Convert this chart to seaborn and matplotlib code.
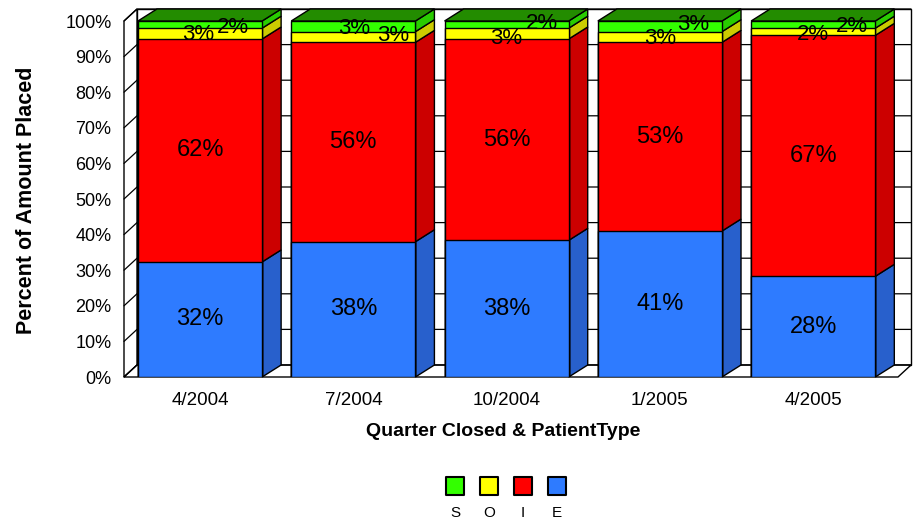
import matplotlib
matplotlib.use("Agg")
import matplotlib.pyplot as plt
from matplotlib.patches import Polygon
import numpy as np
import pandas as pd
import seaborn as sns

# Datos (porcentaje del importe colocado)
quarters = ["4/2004", "7/2004", "10/2004", "1/2005", "4/2005"]
series_names = ["S", "O", "I", "E"]
e_vals = [32, 38, 38, 41, 28]
i_vals = [62, 56, 56, 53, 67]
o_vals = [3, 3, 3, 3, 2]
s_vals = [2, 3, 2, 3, 2]

# colores: frente, lateral
front_col = {"E": "#2E7BFF", "I": "#FF0000", "O": "#FFFF00", "S": "#33FF00"}
side_col = {"E": "#2860CC", "I": "#CC0000", "O": "#CCCC00", "S": "#29CC00"}
top_col = "#238C00"

# desplazamiento de etiquetas pequeñas (px) para evitar solapes
o_nudge = [(-2, -1), (40, 2), (0, -5), (0, -1), (0, -3)]
s_nudge = [(33, -3), (1, -2), (35, 1), (33, 2), (39, -2)]

sns.set_style("white")
plt.rcParams["font.family"] = ["Liberation Sans", "DejaVu Sans"]
plt.rcParams["text.color"] = "black"
plt.rcParams["xtick.color"] = "black"
plt.rcParams["ytick.color"] = "black"

fig = plt.figure(figsize=(9.2, 5.23), dpi=100)
ax = fig.add_axes([124 / 920, (523 - 377) / 523, 774 / 920, 356 / 523])

raw = pd.DataFrame({"quarter": quarters, "E": e_vals, "I": i_vals,
                    "O": o_vals, "S": s_vals})
tot = raw[["E", "I", "O", "S"]].sum(axis=1)
pct = raw[["E", "I", "O", "S"]].div(tot, axis=0) * 100
cum = pct.cumsum(axis=1)
cum["quarter"] = quarters
bottoms = cum[["E", "I", "O", "S"]].shift(1, axis=1).fillna(0)

xlo, xhi = -0.496, 4.553
w = 0.81
dxw, dyw = 13 / 153.3, 12 / 3.56   # profundidad de paredes
dxb, dyb = 19 / 153.3, 12 / 3.56   # profundidad de barras

# paredes y suelo
ax.add_patch(Polygon([(xlo + dxw, dyw), (xhi + dxw, dyw), (xhi + dxw, 100 + dyw),
                      (xlo + dxw, 100 + dyw)], closed=True, fc="white", ec="black",
                     lw=1, zorder=0, clip_on=False))
ax.add_patch(Polygon([(xlo, 0), (xlo + dxw, dyw), (xlo + dxw, 100 + dyw), (xlo, 100)],
                     closed=True, fc="white", ec="black", lw=1, zorder=0, clip_on=False))
ax.add_patch(Polygon([(xlo, 0), (xhi, 0), (xhi + dxw, dyw), (xlo + dxw, dyw)],
                     closed=True, fc="white", ec="black", lw=1, zorder=0, clip_on=False))
for t in range(0, 101, 10):
    ax.plot([xlo, xlo + dxw, xhi + dxw], [t, t + dyw, t + dyw], color="black",
            lw=0.9, zorder=0.5, clip_on=False)

# caras frontales con seaborn (de la acumulada mayor a la menor)
for name in ["S", "O", "I", "E"]:
    sns.barplot(data=cum, x="quarter", y=name, color=front_col[name], saturation=1,
                width=w, edgecolor="black", linewidth=1, errorbar=None, ax=ax, zorder=3)

# caras laterales y superiores
for i in range(len(quarters)):
    xr = i + w / 2
    for name in ["E", "I", "O", "S"]:
        y0, y1 = bottoms.loc[i, name], cum.loc[i, name]
        ax.add_patch(Polygon([(xr, y0), (xr + dxb, y0 + dyb), (xr + dxb, y1 + dyb), (xr, y1)],
                             closed=True, fc=side_col[name], ec="black", lw=1,
                             zorder=2.5, clip_on=False))
    xl = i - w / 2
    ax.add_patch(Polygon([(xl, 100), (xl + dxb, 100 + dyb), (xr + dxb, 100 + dyb), (xr, 100)],
                         closed=True, fc=top_col, ec="black", lw=1, zorder=2.5, clip_on=False))

# etiquetas de datos
for i in range(len(quarters)):
    for name, vals in [("E", e_vals), ("I", i_vals)]:
        yc = bottoms.loc[i, name] + pct.loc[i, name] / 2
        ax.text(i, yc, f"{vals[i]}%", ha="center", va="center", fontsize=17, zorder=5)
    for name, vals, nud in [("O", o_vals, o_nudge), ("S", s_vals, s_nudge)]:
        yc = bottoms.loc[i, name] + pct.loc[i, name] / 2
        ax.annotate(f"{vals[i]}%", (i, yc), xytext=nud[i], textcoords="offset pixels",
                    ha="center", va="center", fontsize=16, zorder=5, annotation_clip=False)

ax.set_xlim(xlo, xhi)
ax.set_ylim(0, 100)
ax.set_yticks(range(0, 101, 10))
ax.set_yticklabels([f"{t}%" for t in range(0, 101, 10)])
ax.tick_params(axis="y", length=0, pad=9, labelsize=13)
ax.tick_params(axis="x", length=0, pad=11, labelsize=13.5)
ax.set_xlabel("")
ax.set_ylabel("")
for sp in ax.spines.values():
    sp.set_visible(False)

fig.text(503 / 920, 1 - 432 / 523, "Quarter Closed & PatientType", ha="center",
         va="center", fontsize=14, fontweight="bold")
fig.text(27 / 920, 1 - 200 / 523, "Percent of Amount Placed", ha="center", va="center",
         rotation=90, fontsize=15.5, fontweight="bold")

# leyenda: cuadrados con letra debajo
lax = fig.add_axes([438 / 920, 0, 136 / 920, 60 / 523])
lax.set_xlim(-0.5, 3.5)
lax.set_ylim(0, 60)
lax.axis("off")
lax.scatter(range(4), [37] * 4, marker="s", s=180,
            c=[front_col[n] for n in series_names], edgecolors="black", linewidths=1.5)
for k, n in enumerate(series_names):
    lax.text(k, 10, n, ha="center", va="center", fontsize=11)

fig.savefig("out.png", dpi=100)
plt.close(fig)
